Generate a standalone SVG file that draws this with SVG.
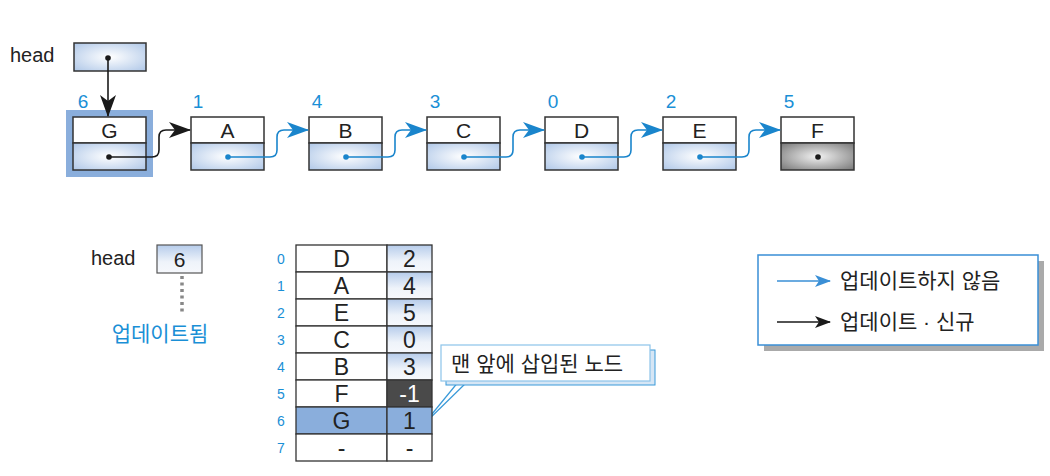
<svg xmlns="http://www.w3.org/2000/svg" width="1050" height="476" viewBox="0 0 1050 476">
<defs>
<radialGradient id="gb" cx="0.5" cy="0.5" r="0.75">
<stop offset="0" stop-color="#ffffff"/><stop offset="1" stop-color="#a9c3e6"/>
</radialGradient>
<radialGradient id="gg" cx="0.5" cy="0.5" r="0.75">
<stop offset="0" stop-color="#f2f2f2"/><stop offset="1" stop-color="#6e6e6e"/>
</radialGradient>
<linearGradient id="gv" x1="0" y1="0" x2="0" y2="1">
<stop offset="0" stop-color="#b6cceb"/><stop offset="0.6" stop-color="#eef3fa"/><stop offset="1" stop-color="#f6f8fc"/>
</linearGradient>
<marker id="abig" viewBox="0 0 22 16" refX="21" refY="8" markerWidth="22" markerHeight="16" markerUnits="userSpaceOnUse" orient="auto">
<path d="M0,0 L22,8 L0,16 L6,8 Z" fill="#1a85cc"/>
</marker>
<marker id="kbig" viewBox="0 0 22 16" refX="21" refY="8" markerWidth="22" markerHeight="16" markerUnits="userSpaceOnUse" orient="auto">
<path d="M0,0 L22,8 L0,16 L6,8 Z" fill="#1a1a1a"/>
</marker>
<marker id="legb" viewBox="0 0 16 12" refX="15" refY="6" markerWidth="16" markerHeight="12" markerUnits="userSpaceOnUse" orient="auto">
<path d="M0,0 L16,6 L0,12 L4,6 Z" fill="#3a8fd6"/>
</marker>
<marker id="legk" viewBox="0 0 16 12" refX="15" refY="6" markerWidth="16" markerHeight="12" markerUnits="userSpaceOnUse" orient="auto">
<path d="M0,0 L16,6 L0,12 L4,6 Z" fill="#1a1a1a"/>
</marker>
</defs>
<style>
text{font-family:"Liberation Sans","Noto Sans CJK KR",sans-serif;fill:#222}
.lbl{font-size:21px;text-anchor:middle}
.tl{font-size:23px;text-anchor:middle}
.idx{font-size:19px;fill:#1a8fd6}
.tidx{font-size:14px;fill:#1a8fd6;text-anchor:middle}
.box{stroke:#333;stroke-width:1.5}
.cell{stroke:#333;stroke-width:1.3}
.blue{fill:none;stroke:#1a85cc;stroke-width:1.6}
.black{fill:none;stroke:#1a1a1a;stroke-width:1.6}
.kor{font-size:21px}
</style>

<!-- top: head pointer -->
<g id="head-top">
<text x="10" y="62" style="font-size:20px">head</text>
<rect x="74" y="43" width="72" height="28" fill="url(#gb)" class="box"/>
<circle cx="108" cy="58" r="2.8" fill="#1a1a1a"/>
</g>

<g id="node-G">
<rect x="66" y="110" width="87" height="67" fill="#8aaedc"/>
<text x="83" y="108" class="idx" text-anchor="middle">6</text>
<rect x="73" y="117" width="73" height="26" fill="#fff" class="box"/>
<rect x="73" y="143" width="73" height="27" fill="url(#gb)" class="box"/>
<text x="109.5" y="138" class="lbl">G</text>
<circle cx="109" cy="157" r="2.8" fill="#1a1a1a"/>
</g>
<g id="node-A">
<text x="198" y="108" class="idx" text-anchor="middle">1</text>
<rect x="191" y="117" width="73" height="26" fill="#fff" class="box"/>
<rect x="191" y="143" width="73" height="27" fill="url(#gb)" class="box"/>
<text x="227.5" y="138" class="lbl">A</text>
<circle cx="228" cy="157" r="2.8" fill="#1a85cc"/>
</g>
<g id="node-B">
<text x="317" y="108" class="idx" text-anchor="middle">4</text>
<rect x="309" y="117" width="73" height="26" fill="#fff" class="box"/>
<rect x="309" y="143" width="73" height="27" fill="url(#gb)" class="box"/>
<text x="345.5" y="138" class="lbl">B</text>
<circle cx="346" cy="157" r="2.8" fill="#1a85cc"/>
</g>
<g id="node-C">
<text x="435" y="108" class="idx" text-anchor="middle">3</text>
<rect x="427" y="117" width="73" height="26" fill="#fff" class="box"/>
<rect x="427" y="143" width="73" height="27" fill="url(#gb)" class="box"/>
<text x="463.5" y="138" class="lbl">C</text>
<circle cx="464" cy="157" r="2.8" fill="#1a85cc"/>
</g>
<g id="node-D">
<text x="553" y="108" class="idx" text-anchor="middle">0</text>
<rect x="545" y="117" width="73" height="26" fill="#fff" class="box"/>
<rect x="545" y="143" width="73" height="27" fill="url(#gb)" class="box"/>
<text x="581.5" y="138" class="lbl">D</text>
<circle cx="582" cy="157" r="2.8" fill="#1a85cc"/>
</g>
<g id="node-E">
<text x="671" y="108" class="idx" text-anchor="middle">2</text>
<rect x="663" y="117" width="73" height="26" fill="#fff" class="box"/>
<rect x="663" y="143" width="73" height="27" fill="url(#gb)" class="box"/>
<text x="699.5" y="138" class="lbl">E</text>
<circle cx="700" cy="157" r="2.8" fill="#1a85cc"/>
</g>
<g id="node-F">
<text x="789" y="108" class="idx" text-anchor="middle">5</text>
<rect x="781" y="117" width="73" height="26" fill="#fff" class="box"/>
<rect x="781" y="143" width="73" height="27" fill="url(#gg)" class="box"/>
<text x="817.5" y="138" class="lbl">F</text>
<circle cx="818" cy="157" r="2.8" fill="#1a1a1a"/>
</g>

<g id="connectors">
<path d="M108,58 L108,116" class="black" marker-end="url(#kbig)"/>
<path d="M109,157 L152,157 Q159,157 159,150 L159,137 Q159,130 166,130 L190,130" class="black" marker-end="url(#kbig)"/>
<path d="M228,157 L270,157 Q277,157 277,150 L277,137 Q277,130 284,130 L308,130" class="blue" marker-end="url(#abig)"/>
<path d="M346,157 L388,157 Q395,157 395,150 L395,137 Q395,130 402,130 L426,130" class="blue" marker-end="url(#abig)"/>
<path d="M464,157 L506,157 Q513,157 513,150 L513,137 Q513,130 520,130 L544,130" class="blue" marker-end="url(#abig)"/>
<path d="M582,157 L624,157 Q631,157 631,150 L631,137 Q631,130 638,130 L662,130" class="blue" marker-end="url(#abig)"/>
<path d="M700,157 L742,157 Q749,157 749,150 L749,137 Q749,130 756,130 L780,130" class="blue" marker-end="url(#abig)"/>
<path d="M182,276 L182,314" fill="none" stroke="#888" stroke-width="3.5" stroke-dasharray="3,3.5"/>
<path d="M459,381 L423,425 M468,381 L423,425" fill="none" stroke="#3a9ad9" stroke-width="1.2"/>
</g>

<!-- bottom head -->
<g id="head-bottom">
<text x="91" y="265" style="font-size:20px">head</text>
<rect x="157" y="245" width="45" height="28" fill="url(#gv)" stroke="#555" stroke-width="1.2"/>
<text x="179.5" y="267" class="lbl">6</text>
<text x="160" y="341" text-anchor="middle" style="fill:#1a8fd6;font-size:21px">업데이트됨</text>
</g>

<!-- table -->
<g id="table">
<rect x="296" y="245" width="91" height="27" fill="#fff" class="cell"/><rect x="387" y="245" width="45" height="27" fill="url(#gv)" class="cell"/>
<rect x="296" y="272" width="91" height="27" fill="#fff" class="cell"/><rect x="387" y="272" width="45" height="27" fill="url(#gv)" class="cell"/>
<rect x="296" y="299" width="91" height="27" fill="#fff" class="cell"/><rect x="387" y="299" width="45" height="27" fill="url(#gv)" class="cell"/>
<rect x="296" y="326" width="91" height="27" fill="#fff" class="cell"/><rect x="387" y="326" width="45" height="27" fill="url(#gv)" class="cell"/>
<rect x="296" y="353" width="91" height="27" fill="#fff" class="cell"/><rect x="387" y="353" width="45" height="27" fill="url(#gv)" class="cell"/>
<rect x="296" y="380" width="91" height="27" fill="#fff" class="cell"/><rect x="387" y="380" width="45" height="27" fill="#4a4a4a" class="cell"/>
<rect x="296" y="407" width="91" height="27" fill="#8aaedc" class="cell"/><rect x="387" y="407" width="45" height="27" fill="#8aaedc" class="cell"/>
<rect x="296" y="434" width="91" height="27" fill="#fff" class="cell"/><rect x="387" y="434" width="45" height="27" fill="#fff" class="cell"/>
<text x="281" y="264" class="tidx">0</text><text x="341.5" y="267" class="tl">D</text><text x="409.5" y="267" class="tl">2</text>
<text x="281" y="291" class="tidx">1</text><text x="341.5" y="294" class="tl">A</text><text x="409.5" y="294" class="tl">4</text>
<text x="281" y="318" class="tidx">2</text><text x="341.5" y="321" class="tl">E</text><text x="409.5" y="321" class="tl">5</text>
<text x="281" y="345" class="tidx">3</text><text x="341.5" y="348" class="tl">C</text><text x="409.5" y="348" class="tl">0</text>
<text x="281" y="372" class="tidx">4</text><text x="341.5" y="375" class="tl">B</text><text x="409.5" y="375" class="tl">3</text>
<text x="281" y="399" class="tidx">5</text><text x="341.5" y="402" class="tl">F</text><text x="409.5" y="402" class="tl" style="fill:#fff">-1</text>
<text x="281" y="426" class="tidx">6</text><text x="341.5" y="429" class="tl">G</text><text x="409.5" y="429" class="tl">1</text>
<text x="281" y="453" class="tidx">7</text><text x="341.5" y="456" class="tl">-</text><text x="409.5" y="456" class="tl">-</text>
</g>

<!-- callout -->
<g id="callout">
<rect x="446" y="350" width="209" height="35" fill="#d6e6f5" stroke="#3a9ad9" stroke-width="1"/>
<rect x="441" y="345" width="209" height="36" fill="#fff" stroke="#8cc4ea" stroke-width="1.2"/>
<text x="451" y="371" style="font-size:21px">맨 앞에 삽입된 노드</text>
</g>

<!-- legend -->
<g id="legend">
<rect x="764" y="261" width="280" height="90" fill="#aaa"/>
<rect x="758" y="255" width="280" height="90" fill="#fff" stroke="#3a8fd6" stroke-width="1.5"/>
<path d="M777,281 L830,281" fill="none" stroke="#3a8fd6" stroke-width="1.5" marker-end="url(#legb)"/>
<text x="840" y="288" class="kor">업데이트하지 않음</text>
<path d="M777,322 L830,322" fill="none" stroke="#1a1a1a" stroke-width="1.5" marker-end="url(#legk)"/>
<text x="840" y="329" class="kor">업데이트 · 신규</text>
</g>
</svg>
